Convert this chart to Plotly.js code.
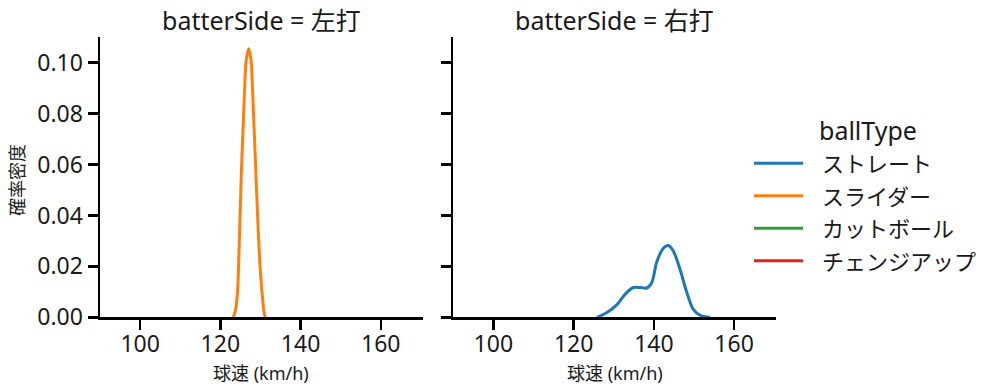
<!DOCTYPE html>
<html>
<head>
<meta charset="utf-8">
<script src="https://cdn.plot.ly/plotly-3.0.1.min.js"></script>
<style>html,body{margin:0;padding:0;background:#fff;}#chart{width:999px;height:391px;}</style>
</head>
<body>
<div id="chart"></div>
<script>
// ---- data ----
const ballTypes = ['ストレート', 'スライダー', 'カットボール', 'チェンジアップ'];
const ballColors = ['#1f77b4', '#ff7f0e', '#2ca02c', '#d62728'];
const panelTitles = ['batterSide = 左打', 'batterSide = 右打'];
const xTickVals = [100, 120, 140, 160];
const yTickVals = [0, 0.02, 0.04, 0.06, 0.08, 0.10];

// 左打 : スライダー
const leftSliderSpeed = [123.25, 123.8, 124.33, 124.58, 124.83, 125.08, 125.33, 125.67, 126.0, 126.42, 127.08, 127.67, 128.08, 128.42, 128.75, 129.08, 129.42, 129.83, 130.33, 130.8, 131.17];
const leftSliderDensity = [0.0, 0.003, 0.011, 0.022, 0.035, 0.048, 0.061, 0.074, 0.0875, 0.1007, 0.1055, 0.1007, 0.0875, 0.0743, 0.0611, 0.048, 0.0348, 0.0216, 0.0111, 0.003, 0.0];

// 右打 : ストレート
const rightStraightSpeed = [125.8, 128.3, 130.8, 132.8, 134.9, 136.6, 138.2, 139.5, 140.7, 142.4, 143.6, 144.8, 146.5, 148.2, 149.8, 151.5, 154.0];
const rightStraightDensity = [0.0, 0.0019, 0.005, 0.009, 0.0117, 0.0117, 0.0115, 0.0137, 0.0216, 0.0272, 0.0282, 0.0262, 0.019, 0.0098, 0.0032, 0.0008, 0.0];

// ---- figure ----
const W = 999, H = 391;
const FONT = '"Noto Sans", "Noto Sans CJK JP", sans-serif';
const px = v => v / W;
const py = v => 1 - v / H;

const traces = [
  {x: leftSliderSpeed, y: leftSliderDensity, xaxis: 'x', yaxis: 'y', type: 'scatter', mode: 'lines',
   line: {color: ballColors[1], width: 3, shape: 'spline', smoothing: 0.6}, showlegend: false, hoverinfo: 'skip'},
  {x: rightStraightSpeed, y: rightStraightDensity, xaxis: 'x2', yaxis: 'y2', type: 'scatter', mode: 'lines',
   line: {color: ballColors[0], width: 3, shape: 'spline', smoothing: 0.8}, showlegend: false, hoverinfo: 'skip'}
];

const xRange = [90.0, 170.4];
const yRange = [0, 0.1102];
const axCommon = {
  showgrid: false, zeroline: false, showline: true, linecolor: '#000', linewidth: 2.5,
  ticks: 'outside', ticklen: 10, tickwidth: 2.5, tickcolor: '#000',
  tickfont: {family: FONT, size: 23, color: '#1a1a1a'}, fixedrange: true
};

const layout = {
  width: W, height: H,
  margin: {l: 0, r: 0, t: 0, b: 0},
  paper_bgcolor: '#fff', plot_bgcolor: '#fff',
  showlegend: false,
  xaxis: Object.assign({}, axCommon, {domain: [px(100), px(422.5)], range: xRange, tickvals: xTickVals, anchor: 'y', ticklabelstandoff: -5}),
  yaxis: Object.assign({}, axCommon, {domain: [1 - 317.3 / H, 1 - 36.7 / H], range: yRange, tickvals: yTickVals, tickformat: '.2f', anchor: 'x'}),
  xaxis2: Object.assign({}, axCommon, {domain: [px(453.3), px(775.8)], range: xRange, tickvals: xTickVals, anchor: 'y2', ticklabelstandoff: -5}),
  yaxis2: Object.assign({}, axCommon, {domain: [1 - 317.3 / H, 1 - 36.7 / H], range: yRange, tickvals: yTickVals, showticklabels: false, anchor: 'x2'}),
  shapes: [],
  annotations: []
};

// panel titles
const panelCenters = [(100 + 422.5) / 2, (453.3 + 775.8) / 2];
panelTitles.forEach((t, i) => {
  layout.annotations.push({text: t, xref: 'paper', yref: 'paper', x: px(panelCenters[i]), y: py(20),
    xanchor: 'center', yanchor: 'middle', showarrow: false, font: {family: FONT, size: 25, color: '#1a1a1a'}});
  layout.annotations.push({text: '球速 (km/h)', xref: 'paper', yref: 'paper', x: px(panelCenters[i]), y: py(373),
    xanchor: 'center', yanchor: 'middle', showarrow: false, font: {family: FONT, size: 18, color: '#1a1a1a'}});
});
layout.annotations.push({text: '確率密度', xref: 'paper', yref: 'paper', x: px(17), y: py(180),
  xanchor: 'center', yanchor: 'middle', textangle: -90, showarrow: false, font: {family: FONT, size: 18, color: '#1a1a1a'}});

// legend (drawn manually)
layout.annotations.push({text: 'ballType', xref: 'paper', yref: 'paper', x: px(817), y: py(130),
  xanchor: 'left', yanchor: 'middle', showarrow: false, font: {family: FONT, size: 25, color: '#1a1a1a'}});
ballTypes.forEach((name, i) => {
  const yc = 163.3 + i * 32.5;
  layout.shapes.push({type: 'line', xref: 'paper', yref: 'paper', x0: px(754), x1: px(803), y0: py(yc), y1: py(yc),
    line: {color: ballColors[i], width: 3}});
  layout.annotations.push({text: name, xref: 'paper', yref: 'paper', x: px(820), y: py(yc),
    xanchor: 'left', yanchor: 'middle', showarrow: false, font: {family: FONT, size: 22, color: '#1a1a1a'}});
});

Plotly.newPlot('chart', traces, layout, {staticPlot: true, displayModeBar: false});
</script>
</body>
</html>
